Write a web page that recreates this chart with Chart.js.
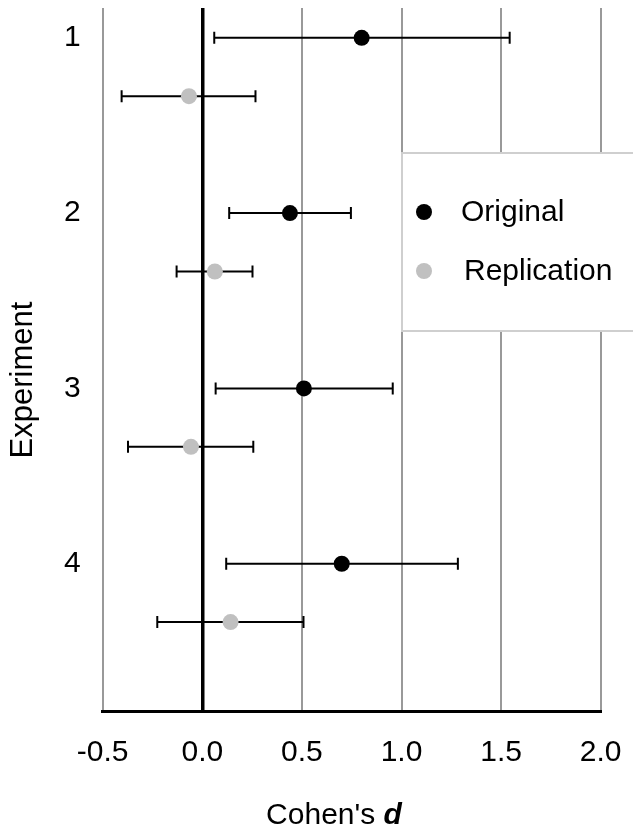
<!DOCTYPE html>
<html>
<head>
<meta charset="utf-8">
<script src="https://cdn.jsdelivr.net/npm/chart.js@4.4.0/dist/chart.umd.min.js"></script>
<style>
  body { margin: 0; background: #fff; }
  #wrap { width: 633px; height: 828px; }
</style>
</head>
<body>
<div id="wrap"><canvas id="grafica" width="633" height="828"></canvas></div>
<script>
// Datos (d de Cohen con intervalos)
const experimentos = ['1', '2', '3', '4'];
const posOriginal = [1, 2, 3, 4];
const posReplica = [1.333, 2.333, 3.333, 4.333];

const dOriginal = [0.80, 0.44, 0.51, 0.70];
const bajoOriginal = [0.06, 0.135, 0.067, 0.12];
const altoOriginal = [1.543, 0.746, 0.956, 1.283];

const dReplica = [-0.067, 0.063, -0.057, 0.142];
const bajoReplica = [-0.405, -0.129, -0.373, -0.226];
const altoReplica = [0.267, 0.252, 0.256, 0.508];

const ticksX = [-0.5, 0.0, 0.5, 1.0, 1.5, 2.0];
const etiquetas = ['Original', 'Replication'];
const tituloY = 'Experiment';
const tituloX = "Cohen's ";
const tituloXd = 'd';

const FUENTE = '"Liberation Sans", Arial, sans-serif';
Chart.defaults.font.family = FUENTE;
Chart.defaults.color = '#000';

// Barras de error horizontales con remates
const barrasError = {
  id: 'barrasError',
  beforeDatasetsDraw(chart) {
    const { ctx, scales: { x, y } } = chart;
    ctx.save();
    ctx.strokeStyle = '#000';
    ctx.lineWidth = 2;
    const dibujar = (bajo, alto, pos) => {
      bajo.forEach((b, i) => {
        const x1 = x.getPixelForValue(b);
        const x2 = x.getPixelForValue(alto[i]);
        const yy = y.getPixelForValue(pos[i]);
        ctx.beginPath();
        ctx.moveTo(x1, yy); ctx.lineTo(x2, yy);
        ctx.moveTo(x1, yy - 6); ctx.lineTo(x1, yy + 6);
        ctx.moveTo(x2, yy - 6); ctx.lineTo(x2, yy + 6);
        ctx.stroke();
      });
    };
    dibujar(bajoOriginal, altoOriginal, posOriginal);
    dibujar(bajoReplica, altoReplica, posReplica);
    ctx.restore();
  }
};

// Leyenda en caja y titulos de ejes
const leyendaTitulos = {
  id: 'leyendaTitulos',
  afterDraw(chart) {
    const { ctx } = chart;
    ctx.save();
    ctx.fillStyle = '#fff';
    ctx.strokeStyle = '#cfcfcf';
    ctx.lineWidth = 2;
    ctx.fillRect(402, 153, 250, 178);
    ctx.strokeRect(402, 153, 250, 178);

    ctx.font = '30px ' + FUENTE;
    ctx.textBaseline = 'middle';
    chart.data.datasets.forEach((ds, i) => {
      const yy = 212 + i * 59;
      ctx.fillStyle = ds.backgroundColor;
      ctx.beginPath();
      ctx.arc(424, yy, 8, 0, Math.PI * 2);
      ctx.fill();
      ctx.fillStyle = '#000';
      ctx.fillText(ds.label, 461 + i * 3, yy + 1);
    });

    // Titulo eje Y
    ctx.save();
    ctx.font = '31px ' + FUENTE;
    ctx.translate(23, 380);
    ctx.rotate(-Math.PI / 2);
    ctx.textAlign = 'center';
    ctx.fillText(tituloY, 0, 0);
    ctx.restore();

    // Titulo eje X con d en cursiva
    ctx.textBaseline = 'alphabetic';
    const fNormal = '30px ' + FUENTE;
    const fCursiva = 'italic bold 30px ' + FUENTE;
    ctx.font = fNormal;
    const w1 = ctx.measureText(tituloX).width;
    ctx.font = fCursiva;
    const w2 = ctx.measureText(tituloXd).width;
    const x0 = 334 - (w1 + w2) / 2;
    ctx.font = fNormal;
    ctx.fillText(tituloX, x0, 824);
    ctx.font = fCursiva;
    ctx.fillText(tituloXd, x0 + w1, 824);
    ctx.restore();
  }
};

const ctx = document.getElementById('grafica').getContext('2d');
new Chart(ctx, {
  type: 'scatter',
  data: {
    datasets: [
      {
        label: etiquetas[0],
        data: dOriginal.map((d, i) => ({ x: d, y: posOriginal[i] })),
        backgroundColor: '#000',
        borderWidth: 0,
        pointRadius: 8
      },
      {
        label: etiquetas[1],
        data: dReplica.map((d, i) => ({ x: d, y: posReplica[i] })),
        backgroundColor: '#c0c0c0',
        borderWidth: 0,
        pointRadius: 8
      }
    ]
  },
  options: {
    responsive: false,
    animation: false,
    layout: { padding: { top: 8, right: 32.3, bottom: 0, left: 0 } },
    plugins: { legend: { display: false }, tooltip: { enabled: false } },
    scales: {
      x: {
        type: 'linear',
        min: -0.5,
        max: 2.0,
        afterBuildTicks: (scale) => { scale.ticks = ticksX.map(v => ({ value: v })); },
        afterFit: (scale) => {
          scale.height = 117;
          scale.paddingLeft = 0;
          scale.paddingRight = 0;
        },
        ticks: {
          font: { size: 30 },
          padding: 24,
          callback: (v) => Number(v).toFixed(1)
        },
        grid: {
          drawTicks: false,
          color: (c) => (c.tick && c.tick.value === 0 ? '#000' : '#999'),
          lineWidth: (c) => (c.tick && c.tick.value === 0 ? 3.5 : 2)
        },
        border: { color: '#000', width: 3 }
      },
      y: {
        type: 'linear',
        reverse: true,
        min: 0.83,
        max: 4.84,
        afterBuildTicks: (scale) => { scale.ticks = posOriginal.map(v => ({ value: v })); },
        afterFit: (scale) => {
          scale.width = 102.7;
          scale.paddingTop = 0;
          scale.paddingBottom = 0;
        },
        ticks: {
          font: { size: 30 },
          padding: 22,
          callback: (v) => experimentos[posOriginal.indexOf(v)]
        },
        grid: { display: false, drawTicks: false },
        border: { display: false }
      }
    }
  },
  plugins: [barrasError, leyendaTitulos]
});
</script>
</body>
</html>
